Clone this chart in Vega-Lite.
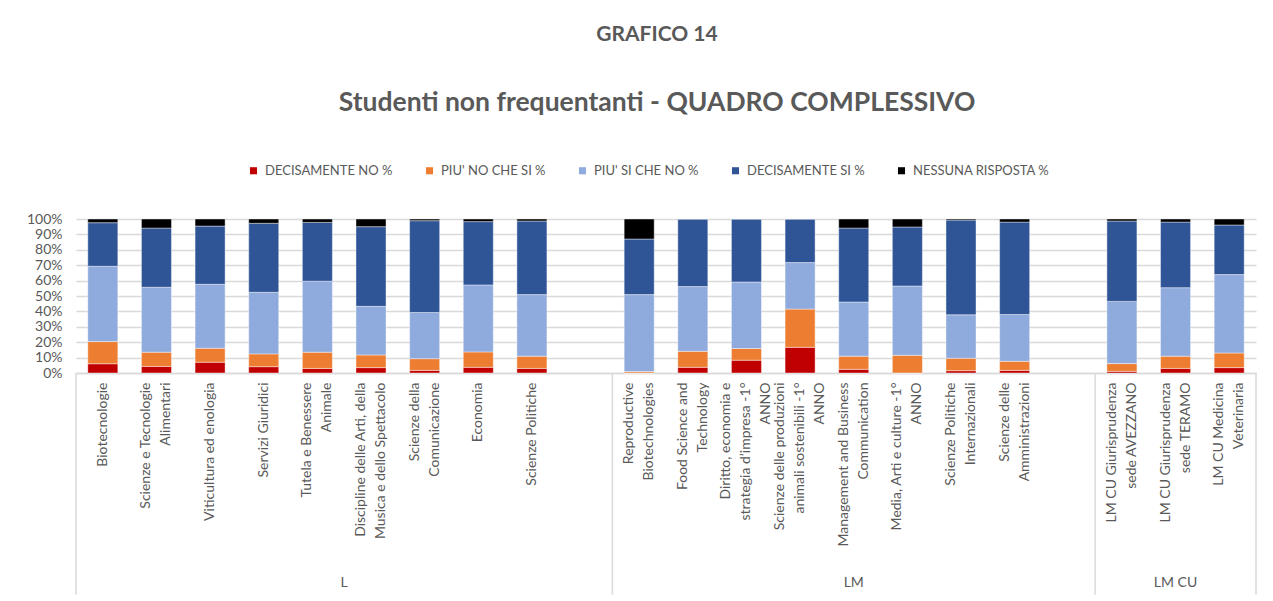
{
  "$schema": "https://vega.github.io/schema/vega-lite/v6.json",
  "width": 1180,
  "height": 154,
  "autosize": {"type": "none"},
  "padding": {"left": 76, "top": 219, "right": 17, "bottom": 228},
  "background": "white",
  "title": {
    "text": "GRAFICO 14",
    "subtitle": "Studenti non frequentanti - QUADRO COMPLESSIVO",
    "anchor": "middle",
    "dx": -9,
    "font": "Lato",
    "subtitleFont": "Lato",
    "fontSize": 21,
    "subtitleFontSize": 26.5,
    "fontWeight": "bold",
    "subtitleFontWeight": "bold",
    "color": "#595959",
    "subtitleColor": "#595959",
    "subtitlePadding": 45,
    "offset": 48
  },
  "datasets": {
    "corsi": [
      {"corso": "Biotecnologie", "gruppo": "L", "a_dn": 6.0, "b_pns": 14.4, "c_psn": 48.9, "d_ds": 28.3, "e_nr": 2.4},
      {"corso": "Scienze e Tecnologie|Alimentari", "gruppo": "L", "a_dn": 4.3, "b_pns": 9.2, "c_psn": 42.2, "d_ds": 38.4, "e_nr": 5.9},
      {"corso": "Viticultura ed enologia", "gruppo": "L", "a_dn": 7.0, "b_pns": 9.1, "c_psn": 41.5, "d_ds": 37.8, "e_nr": 4.6},
      {"corso": "Servizi Giuridici", "gruppo": "L", "a_dn": 4.1, "b_pns": 8.3, "c_psn": 40.0, "d_ds": 44.8, "e_nr": 2.8},
      {"corso": "Tutela e Benessere|Animale", "gruppo": "L", "a_dn": 3.0, "b_pns": 10.5, "c_psn": 46.1, "d_ds": 38.2, "e_nr": 2.2},
      {"corso": "Discipline delle Arti, della|Musica e dello Spettacolo", "gruppo": "L", "a_dn": 3.5, "b_pns": 8.2, "c_psn": 31.6, "d_ds": 51.7, "e_nr": 5.0},
      {"corso": "Scienze della|Comunicazione", "gruppo": "L", "a_dn": 1.7, "b_pns": 7.6, "c_psn": 30.0, "d_ds": 59.6, "e_nr": 1.1},
      {"corso": "Economia", "gruppo": "L", "a_dn": 3.7, "b_pns": 10.0, "c_psn": 43.5, "d_ds": 41.1, "e_nr": 1.7},
      {"corso": "Scienze Politiche", "gruppo": "L", "a_dn": 3.0, "b_pns": 7.9, "c_psn": 40.0, "d_ds": 47.8, "e_nr": 1.3},
      {"corso": "Reproductive|Biotechnologies", "gruppo": "LM", "a_dn": 0.0, "b_pns": 0.9, "c_psn": 50.0, "d_ds": 36.1, "e_nr": 13.0},
      {"corso": "Food Science and|Technology", "gruppo": "LM", "a_dn": 3.7, "b_pns": 10.4, "c_psn": 42.0, "d_ds": 43.9, "e_nr": 0.0},
      {"corso": "Diritto, economia e|strategia d’impresa  -1°|ANNO", "gruppo": "LM", "a_dn": 8.3, "b_pns": 7.6, "c_psn": 43.2, "d_ds": 40.9, "e_nr": 0.0},
      {"corso": "Scienze delle produzioni|animali sostenibili -1°|ANNO", "gruppo": "LM", "a_dn": 16.7, "b_pns": 24.8, "c_psn": 30.2, "d_ds": 28.3, "e_nr": 0.0},
      {"corso": "Management and Business|Communication", "gruppo": "LM", "a_dn": 2.4, "b_pns": 8.5, "c_psn": 35.2, "d_ds": 48.0, "e_nr": 5.9},
      {"corso": "Media, Arti e culture -1°|ANNO", "gruppo": "LM", "a_dn": 0.0, "b_pns": 11.5, "c_psn": 45.0, "d_ds": 38.3, "e_nr": 5.2},
      {"corso": "Scienze Politiche|Internazionali", "gruppo": "LM", "a_dn": 1.5, "b_pns": 8.1, "c_psn": 28.2, "d_ds": 61.5, "e_nr": 0.7},
      {"corso": "Scienze delle|Amministrazioni", "gruppo": "LM", "a_dn": 1.7, "b_pns": 5.9, "c_psn": 30.4, "d_ds": 60.0, "e_nr": 2.0},
      {"corso": "LM CU  Giurisprudenza|sede AVEZZANO", "gruppo": "LM CU", "a_dn": 1.1, "b_pns": 5.0, "c_psn": 40.4, "d_ds": 52.2, "e_nr": 1.3},
      {"corso": "LM CU Giurisprudenza|sede TERAMO", "gruppo": "LM CU", "a_dn": 3.0, "b_pns": 7.9, "c_psn": 44.5, "d_ds": 42.6, "e_nr": 2.0},
      {"corso": "LM CU Medicina|Veterinaria", "gruppo": "LM CU", "a_dn": 3.5, "b_pns": 9.5, "c_psn": 50.9, "d_ds": 32.2, "e_nr": 3.9}
    ],
    "inizioGruppi": [
      {"corso": "Biotecnologie"},
      {"corso": "Reproductive|Biotechnologies"},
      {"corso": "LM CU  Giurisprudenza|sede AVEZZANO"}
    ],
    "fineGruppi": [
      {"corso": "LM CU Medicina|Veterinaria"}
    ],
    "etichettaL": [
      {"corso": "Tutela e Benessere|Animale", "gruppo": "L"}
    ],
    "etichetteLM": [
      {"corso": "Management and Business|Communication", "gruppo": "LM"},
      {"corso": "LM CU Giurisprudenza|sede TERAMO", "gruppo": "LM CU"}
    ]
  },
  "config": {
    "font": "Lato",
    "view": {"stroke": null}
  },
  "resolve": {"axis": {"y": "independent"}},
  "layer": [
    {
      "data": {"name": "corsi"},
      "transform": [
        {"fold": ["a_dn", "b_pns", "c_psn", "d_ds", "e_nr"], "as": ["risposta", "valore"]}
      ],
      "mark": {"type": "bar", "width": {"band": 0.56}, "stroke": "white", "strokeWidth": 0.6, "strokeOpacity": 0.7},
      "encoding": {
        "x": {
          "field": "corso",
          "type": "nominal",
          "title": null,
          "scale": {
            "domain": ["Biotecnologie", "Scienze e Tecnologie|Alimentari", "Viticultura ed enologia", "Servizi Giuridici", "Tutela e Benessere|Animale", "Discipline delle Arti, della|Musica e dello Spettacolo", "Scienze della|Comunicazione", "Economia", "Scienze Politiche", "_1", "Reproductive|Biotechnologies", "Food Science and|Technology", "Diritto, economia e|strategia d’impresa  -1°|ANNO", "Scienze delle produzioni|animali sostenibili -1°|ANNO", "Management and Business|Communication", "Media, Arti e culture -1°|ANNO", "Scienze Politiche|Internazionali", "Scienze delle|Amministrazioni", "_2", "LM CU  Giurisprudenza|sede AVEZZANO", "LM CU Giurisprudenza|sede TERAMO", "LM CU Medicina|Veterinaria"],
            "paddingInner": 0,
            "paddingOuter": 0
          },
          "axis": {
            "labelExpr": "indexof(datum.label, '_') == 0 ? '' : split(datum.label, '|')",
            "labelAngle": -90,
            "labelAlign": "right",
            "labelBaseline": "middle",
            "labelFontSize": 14,
            "labelLineHeight": 20,
            "labelColor": "#595959",
            "labelPadding": 9,
            "labelOffset": {
              "condition": [
                {"test": "length(split(datum.value, '|')) == 3", "value": -20},
                {"test": "length(split(datum.value, '|')) == 2", "value": -10}
              ],
              "value": 0
            },
            "labelOverlap": false,
            "labelLimit": 300,
            "ticks": false,
            "domainColor": "#D9D9D9",
            "domainWidth": 1.5,
            "grid": false
          }
        },
        "y": {
          "field": "valore",
          "type": "quantitative",
          "stack": "normalize",
          "title": null,
          "scale": {"domain": [0, 1]},
          "axis": {
            "values": [0, 0.1, 0.2, 0.3, 0.4, 0.5, 0.6, 0.7, 0.8, 0.9, 1],
            "format": ".0%",
            "labelFontSize": 14,
            "labelColor": "#595959",
            "labelPadding": 14,
            "labelOverlap": false,
            "labelBound": false,
            "ticks": false,
            "domain": false,
            "grid": true,
            "gridColor": "#D9D9D9",
            "gridWidth": 1.3
          }
        },
        "order": {"field": "risposta", "sort": "ascending"},
        "color": {
          "field": "risposta",
          "type": "nominal",
          "scale": {
            "domain": ["a_dn", "b_pns", "c_psn", "d_ds", "e_nr"],
            "range": ["#C00000", "#ED7D31", "#8FAADC", "#2F5597", "#000000"]
          },
          "legend": {
            "orient": "none",
            "legendX": 171,
            "legendY": -55,
            "direction": "horizontal",
            "title": null,
            "labelExpr": "datum.label == 'a_dn' ? 'DECISAMENTE NO %' : datum.label == 'b_pns' ? \"PIU' NO CHE SI %\" : datum.label == 'c_psn' ? \"PIU' SI CHE NO %\" : datum.label == 'd_ds' ? 'DECISAMENTE SI %' : 'NESSUNA RISPOSTA %'",
            "symbolType": "square",
            "symbolSize": 50,
            "symbolStrokeWidth": 0,
            "labelFontSize": 13,
            "labelColor": "#595959",
            "labelOffset": 5,
            "columnPadding": 30
          }
        }
      }
    },
    {
      "data": {"name": "inizioGruppi"},
      "mark": {"type": "rule", "color": "#D9D9D9", "strokeWidth": 1.5, "clip": false},
      "encoding": {
        "x": {"field": "corso", "type": "nominal", "bandPosition": 0, "title": null},
        "y": {"datum": 0, "type": "quantitative", "axis": null},
        "y2": {"datum": -1.44}
      }
    },
    {
      "data": {"name": "fineGruppi"},
      "mark": {"type": "rule", "color": "#D9D9D9", "strokeWidth": 1.5, "clip": false},
      "encoding": {
        "x": {"field": "corso", "type": "nominal", "bandPosition": 1, "title": null},
        "y": {"datum": 0, "type": "quantitative", "axis": null},
        "y2": {"datum": -1.44}
      }
    },
    {
      "data": {"name": "etichettaL"},
      "mark": {"type": "text", "fontSize": 14, "color": "#595959", "baseline": "middle", "align": "center", "clip": false},
      "encoding": {
        "x": {"field": "corso", "type": "nominal", "bandPosition": 1, "title": null},
        "y": {"datum": -1.365, "type": "quantitative", "axis": null},
        "text": {"field": "gruppo"}
      }
    },
    {
      "data": {"name": "etichetteLM"},
      "mark": {"type": "text", "fontSize": 14, "color": "#595959", "baseline": "middle", "align": "center", "clip": false},
      "encoding": {
        "x": {"field": "corso", "type": "nominal", "bandPosition": 0.5, "title": null},
        "y": {"datum": -1.365, "type": "quantitative", "axis": null},
        "text": {"field": "gruppo"}
      }
    }
  ]
}
